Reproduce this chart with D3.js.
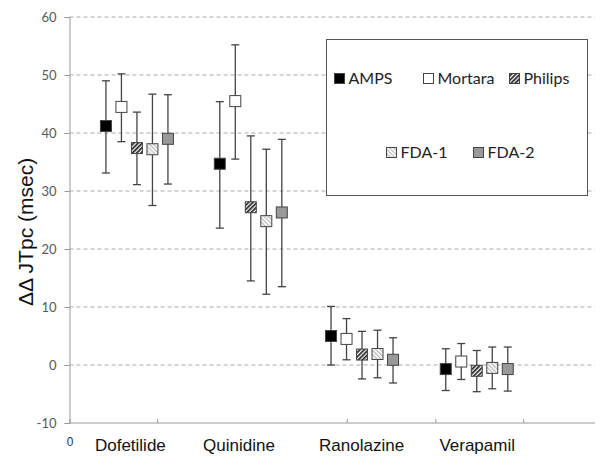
<!DOCTYPE html>
<html><head><meta charset="utf-8">
<script src="https://cdn.jsdelivr.net/npm/d3@7/dist/d3.min.js"></script>
<style>body{margin:0;background:#fff}svg{display:block}</style>
</head><body><svg id="c" width="604" height="465"></svg>
<script>
const categories = ["Dofetilide", "Quinidine", "Ranolazine", "Verapamil"];
const series = ["AMPS", "Mortara", "Philips", "FDA-1", "FDA-2"];
// mean values [category][series]
const means = [
  [41.2, 44.5, 37.4, 37.2, 39.0],
  [34.7, 45.5, 27.2, 24.8, 26.3],
  [5.0, 4.5, 1.8, 1.9, 0.9],
  [-0.7, 0.6, -1.0, -0.5, -0.7]
];
const upper = [
  [49.0, 50.2, 43.6, 46.7, 46.6],
  [45.4, 55.2, 39.5, 37.2, 38.9],
  [10.1, 8.0, 5.8, 6.0, 4.7],
  [2.8, 3.7, 2.5, 3.1, 3.1]
];
const lower = [
  [33.1, 38.5, 31.1, 27.5, 31.2],
  [23.6, 35.5, 14.5, 12.2, 13.5],
  [0.0, 0.9, -2.4, -2.2, -3.1],
  [-4.4, -2.5, -4.6, -4.1, -4.5]
];
const yTicks = [-10, 0, 10, 20, 30, 40, 50, 60];
const groupX = [0.77, 2.07, 3.34, 4.65];      // x of group centre (scatter units)
const labelX = [0.695, 1.935, 3.335, 4.655];  // x of category labels
const xTicks = [0, 1, 3.165, 4.177, 5.18];
const seriesStep = 0.177;

const svg = d3.select("#c");
const x = d3.scaleLinear().domain([0, 6]).range([69.5, 595]);
const y = d3.scaleLinear().domain([-10, 60]).range([423, 17]);

const defs = svg.append("defs");
const p1 = defs.append("pattern").attr("id", "hatchDark").attr("patternUnits", "userSpaceOnUse")
  .attr("width", 3).attr("height", 3).attr("patternTransform", "rotate(45)");
p1.append("rect").attr("width", 3).attr("height", 3).attr("fill", "#fff");
p1.append("rect").attr("width", 1.7).attr("height", 3).attr("fill", "#222");
const p2 = defs.append("pattern").attr("id", "hatchLight").attr("patternUnits", "userSpaceOnUse")
  .attr("width", 3).attr("height", 3).attr("patternTransform", "rotate(-45)");
p2.append("rect").attr("width", 3).attr("height", 3).attr("fill", "#fff");
p2.append("rect").attr("width", 1.3).attr("height", 3).attr("fill", "#bbb");

const fills = ["#000", "#fff", "url(#hatchDark)", "url(#hatchLight)", "#999"];

// gridlines
svg.append("g").selectAll("line").data(yTicks.filter(t => t > -10)).join("line")
  .attr("x1", x(0)).attr("x2", 595).attr("y1", d => y(d)).attr("y2", d => y(d))
  .attr("stroke", "#aaa").attr("stroke-width", 1).attr("stroke-dasharray", "4,3");

// y axis
const yAxis = svg.append("g").attr("transform", `translate(${x(0)},0)`)
  .call(d3.axisLeft(y).tickValues(yTicks).tickSize(5).tickPadding(8).tickFormat(d => String(d)));
yAxis.select(".domain").attr("stroke", "#999");
yAxis.selectAll(".tick line").attr("stroke", "#999");
yAxis.selectAll(".tick text").attr("fill", "#595959").attr("font-size", 13)
  .attr("font-family", "Lato, 'Liberation Sans', sans-serif");

// x axis
const xAxis = svg.append("g").attr("transform", `translate(0,${y(-10)})`)
  .call(d3.axisBottom(x).tickValues(xTicks).tickSize(-4).tickFormat(d => d === 0 ? "0" : ""));
xAxis.select(".domain").attr("stroke", "#999").attr("d", `M${x(0)},0H595`);
xAxis.selectAll(".tick line").attr("stroke", "#999");
xAxis.selectAll(".tick text").attr("fill", "#333").attr("font-size", 12)
  .attr("font-family", "'Liberation Sans', Arial, sans-serif").attr("dy", 0).attr("y", 23);

// category labels
svg.append("g").selectAll("text").data(categories).join("text")
  .attr("x", (d, i) => x(labelX[i])).attr("y", 451).attr("text-anchor", "middle")
  .attr("font-family", "'Liberation Sans', Arial, sans-serif").attr("font-size", 17)
  .attr("fill", "#111").text(d => d);

// y label
svg.append("text").attr("transform", "translate(33,232) rotate(-90)")
  .attr("text-anchor", "middle").attr("font-family", "'Liberation Sans', Arial, sans-serif")
  .attr("font-size", 21).attr("fill", "#111").text("ΔΔ JTpc (msec)");

// points
const pts = [];
categories.forEach((c, ci) => series.forEach((s, si) => pts.push({
  ci, si, x: groupX[ci] + (si - 2) * seriesStep, m: means[ci][si], hi: upper[ci][si], lo: lower[ci][si]
})));
const g = svg.append("g");
const eb = g.selectAll("g.eb").data(pts).join("g").attr("class", "eb")
  .attr("stroke", "#444").attr("stroke-width", 1.3);
eb.append("line").attr("x1", d => x(d.x)).attr("x2", d => x(d.x)).attr("y1", d => y(d.hi)).attr("y2", d => y(d.lo));
eb.append("line").attr("x1", d => x(d.x) - 4).attr("x2", d => x(d.x) + 4).attr("y1", d => y(d.hi)).attr("y2", d => y(d.hi));
eb.append("line").attr("x1", d => x(d.x) - 4).attr("x2", d => x(d.x) + 4).attr("y1", d => y(d.lo)).attr("y2", d => y(d.lo));
g.selectAll("rect").data(pts).join("rect")
  .attr("x", d => x(d.x) - 5.5).attr("y", d => y(d.m) - 5.5).attr("width", 11).attr("height", 11)
  .attr("fill", d => fills[d.si]).attr("stroke", "#444").attr("stroke-width", 1);

// legend
svg.append("rect").attr("x", 326.5).attr("y", 39.5).attr("width", 261).attr("height", 156)
  .attr("fill", "#fff").attr("stroke", "#555").attr("stroke-width", 1);
const legPos = [[334, 84], [423, 84], [509, 84], [386, 158], [473, 158]];
const lg = svg.append("g").selectAll("g").data(series).join("g")
  .attr("transform", (d, i) => `translate(${legPos[i][0]},${legPos[i][1]})`);
lg.append("rect").attr("x", 0.5).attr("y", -10.5).attr("width", 10).attr("height", 10)
  .attr("fill", (d, i) => fills[i]).attr("stroke", "#444").attr("stroke-width", 1);
lg.append("text").attr("x", 14.5).attr("y", 0).attr("font-family", "Lato, 'Open Sans', sans-serif")
  .attr("font-size", 16).attr("fill", "#222").text(d => d);
</script></body></html>
